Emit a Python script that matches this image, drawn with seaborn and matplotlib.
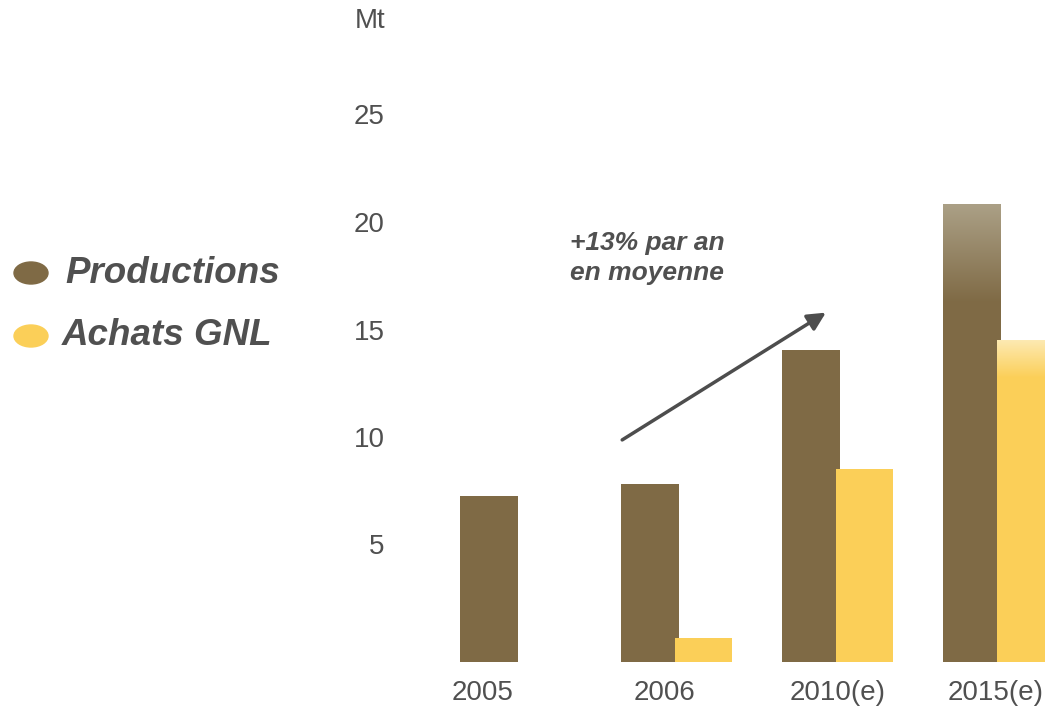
import numpy as np
import pandas as pd
import matplotlib
matplotlib.use('Agg')
import matplotlib.pyplot as plt
import matplotlib.transforms as mtransforms
from matplotlib.patches import Ellipse
from matplotlib.colors import LinearSegmentedColormap
import seaborn as sns

# data (Mt)
years = ['2005', '2006', '2010(e)', '2015(e)']
productions = [7.7, 8.3, 14.5, 21.3]
achats_gnl = [np.nan, 1.1, 9.0, 15.0]
series = ['Productions', 'Achats GNL']
y_ticks = [5, 10, 15, 20, 25]

brown = '#7f6a45'
yellow = '#fbcf58'
grey = '#505050'

df = pd.DataFrame({
    'annee': years * 2,
    'serie': [series[0]] * len(years) + [series[1]] * len(years),
    'Mt': productions + achats_gnl,
})

sns.set_theme(style='white')
plt.rcParams['font.family'] = ['Liberation Sans', 'DejaVu Sans']

fig = plt.figure(figsize=(10.45, 7.09), dpi=100)
# axes placed in pixels: bottom of bars at y=662, left at x=400
ax = fig.add_axes([400 / 1045, 47 / 709, 645 / 1045, 623.5 / 709])

sns.barplot(data=df, x='annee', y='Mt', hue='serie', order=years, hue_order=series,
            palette=[brown, yellow], width=0.66, errorbar=None, saturation=1,
            legend=False, ax=ax)

# bars overlap a little in the original
for p in ax.patches:
    w = p.get_width()
    p.set_width(w * 1.09)
    p.set_x(p.get_x() - w * 0.045)
    p.set_edgecolor('none')

ax.set_xlim(-0.72, 3.286)
ax.set_ylim(0, 29)
ax.set_xlabel('')
ax.set_ylabel('')
sns.despine(ax=ax, left=True, bottom=True)
ax.grid(False)

ax.set_yticks(y_ticks)
ax.set_yticklabels([str(t) for t in y_ticks])
ax.tick_params(axis='y', length=0, pad=11, labelsize=20, labelcolor=grey)
ax.tick_params(axis='x', length=0, pad=13, labelsize=20, labelcolor=grey)
up = mtransforms.ScaledTranslation(0, 10 / 100, fig.dpi_scale_trans)
for lab in ax.get_yticklabels():
    lab.set_transform(lab.get_transform() + up)
for lab, dx in zip(ax.get_xticklabels(), [-33, -12, 0, -3]):
    lab.set_transform(lab.get_transform() + mtransforms.ScaledTranslation(dx / 100, 0, fig.dpi_scale_trans))

# faded tops on the 2015 bars
def fade_top(patch, c_top, c_bottom, depth):
    x0 = patch.get_x()
    x1 = x0 + patch.get_width()
    top = patch.get_height()
    cmap = LinearSegmentedColormap.from_list('f', [c_bottom, c_top])
    grad = np.linspace(1, 0, 100).reshape(-1, 1)
    im = ax.imshow(grad, cmap=cmap, aspect='auto', extent=[x0, x1, top - depth, top],
                   zorder=patch.get_zorder() + 0.1, interpolation='bilinear')
    im.set_clip_path(patch)

bars = [p for p in ax.patches if np.isfinite(p.get_height()) and p.get_height() > 0]
prod_2015 = max(bars, key=lambda p: p.get_height())
achat_2015 = max([p for p in bars if p.get_facecolor()[0] > 0.9], key=lambda p: p.get_height())
fade_top(prod_2015, '#aba086', brown, 4.6)
fade_top(achat_2015, '#fdeab4', yellow, 1.8)
ax.set_xlim(-0.72, 3.286)
ax.set_ylim(0, 29)

# growth arrow and note
ax.annotate('', xy=(1.925, 16.25), xytext=(0.66, 10.33),
            arrowprops=dict(arrowstyle='-|>,head_length=0.9,head_width=0.45',
                            color='#4d4d4d', lw=2.5, shrinkA=0, shrinkB=0))
fig.text(570 / 1045, 1 - 258 / 709, '+13% par an\nen moyenne', fontsize=19, fontweight='bold',
         fontstyle='italic', color=grey, ha='left', va='center', linespacing=1.32)

fig.text(385 / 1045, 1 - 21 / 709, 'Mt', fontsize=20, color=grey, ha='right', va='center')

# legend drawn by hand at the left
for i, (name, col) in enumerate(zip(series, [brown, yellow])):
    yc = 273 + 63 * i
    fig.add_artist(Ellipse((31 / 1045, 1 - yc / 709), 34 / 1045, 22 / 709,
                           transform=fig.transFigure, color=col))
    fig.text((65 - 3 * i) / 1045, 1 - yc / 709, name, fontsize=26.5, fontweight='bold',
             fontstyle='italic', color=grey, ha='left', va='center')

fig.savefig('out.png', dpi=100)
